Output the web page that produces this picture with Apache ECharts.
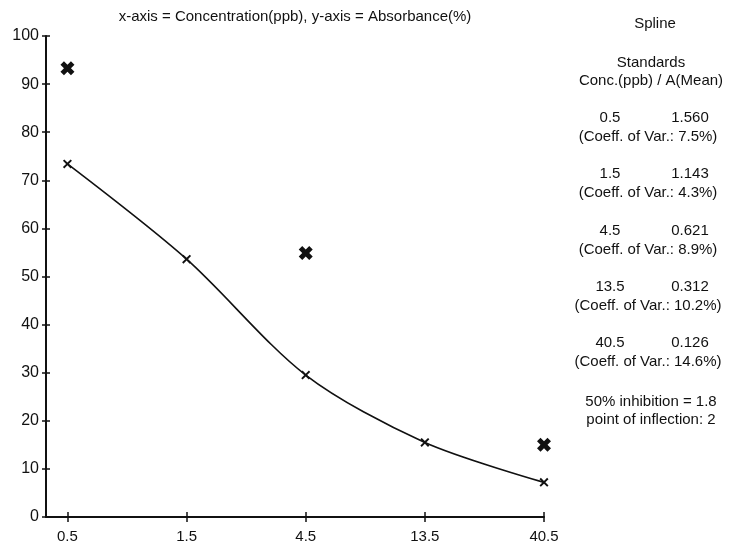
<!DOCTYPE html>
<html>
<head>
<meta charset="utf-8">
<script src="https://cdn.jsdelivr.net/npm/echarts@6/dist/echarts.min.js"></script>
<style>
html, body { margin: 0; padding: 0; background: #fff; }
#chart { width: 731px; height: 546px; }
</style>
</head>
<body>
<div id="chart"></div>
<script>
const FONT = "'Liberation Sans', Arial, sans-serif"
const INK = '#111'

// standards curve (x = concentration in ppb, y = absorbance %)
const concentrations = [0.5, 1.5, 4.5, 13.5, 40.5]
const tickLabels = ['0.5', '1.5', '4.5', '13.5', '40.5']
const curveValues = [73.4, 53.6, 29.5, 15.5, 7.2]

// replicate points drawn off the curve
const outlierConc = [0.5, 4.5, 40.5]
const outlierValues = [93.3, 54.9, 15.0]

// side panel
const concLabels = ['0.5', '1.5', '4.5', '13.5', '40.5']
const meanAbs = ['1.560', '1.143', '0.621', '0.312', '0.126']
const coeffVar = ['7.5%', '4.3%', '8.9%', '10.2%', '14.6%']

const TITLE = 'x-axis = Concentration(ppb), y-axis = Absorbance(%)'

// x scale is logarithmic in steps of 3 starting at 0.5
const toPos = c => Math.round(Math.log(c / 0.5) / Math.log(3) * 1e6) / 1e6
const tickPos = concentrations.map(toPos)

const CROSS = 'path://M0,1.5L1.5,0L5,3.5L8.5,0L10,1.5L6.5,5L10,8.5L8.5,10L5,6.5L1.5,10L0,8.5L3.5,5Z'
const CROSS_BOLD = 'path://M0,2.5L2.5,0L5,2.5L7.5,0L10,2.5L7.5,5L10,7.5L7.5,10L5,7.5L2.5,10L0,7.5L2.5,5Z'

const txt = (text, x, y, size = 15) => ({
  type: 'text',
  x, y,
  style: { text, fill: INK, font: size + 'px ' + FONT, textAlign: 'center', textVerticalAlign: 'middle' },
})

const panel = [
  txt(TITLE, 295, 17, 15),
  txt('Spline', 655, 24),
  txt('Standards', 651, 63),
  txt('Conc.(ppb) / A(Mean)', 651, 81),
]
concLabels.forEach((c, i) => {
  const y = 118 + 56.2 * i
  panel.push(txt(c, 610, y))
  panel.push(txt(meanAbs[i], 690, y))
  panel.push(txt('(Coeff. of Var.: ' + coeffVar[i] + ')', 648, y + 19))
})
panel.push(txt('50% inhibition = 1.8', 651, 402))
panel.push(txt('point of inflection: 2', 651, 420))

const chart = echarts.init(document.getElementById('chart'))

const xBase = {
  type: 'value',
  min: -0.18,
  max: 4,
  position: 'bottom',
  splitLine: { show: false },
}
const yBase = {
  type: 'value',
  min: 0,
  max: 100,
  interval: 10,
  position: 'left',
  splitLine: { show: false },
}

chart.setOption({
  animation: false,
  backgroundColor: '#fff',
  grid: { left: 46, right: 187, top: 36, bottom: 29 },
  graphic: panel,
  xAxis: [
    {
      ...xBase,
      axisLine: { show: true, onZero: false, lineStyle: { color: INK, width: 2 } },
      axisTick: { show: true, customValues: tickPos, length: 5, lineStyle: { color: INK, width: 1.5 } },
      axisLabel: {
        customValues: tickPos,
        formatter: v => tickLabels[Math.round(v)],
        margin: 12,
        color: INK,
        fontFamily: FONT,
        fontSize: 15,
      },
    },
    {
      ...xBase,
      axisLine: { show: false, onZero: false },
      axisTick: { show: true, inside: true, customValues: tickPos, length: 5, lineStyle: { color: INK, width: 1.5 } },
      axisLabel: { show: false },
    },
  ],
  yAxis: [
    {
      ...yBase,
      axisLine: { show: true, onZero: false, lineStyle: { color: INK, width: 2 } },
      axisTick: { show: true, length: 4, lineStyle: { color: INK, width: 1.5 } },
      axisLabel: { margin: 7, color: INK, fontFamily: FONT, fontSize: 16 },
    },
    {
      ...yBase,
      axisLine: { show: false, onZero: false },
      axisTick: { show: true, inside: true, length: 4, lineStyle: { color: INK, width: 1.5 } },
      axisLabel: { show: false },
    },
  ],
  series: [
    {
      type: 'line',
      data: concentrations.map((c, i) => [toPos(c), curveValues[i]]),
      smooth: 0.3,
      symbol: CROSS,
      symbolSize: 9,
      itemStyle: { color: INK, opacity: 1 },
      lineStyle: { color: INK, width: 1.6 },
    },
    {
      type: 'scatter',
      data: outlierConc.map((c, i) => [toPos(c), outlierValues[i]]),
      symbol: CROSS_BOLD,
      symbolSize: 14,
      itemStyle: { color: INK, opacity: 1 },
    },
  ],
})
</script>
</body>
</html>
